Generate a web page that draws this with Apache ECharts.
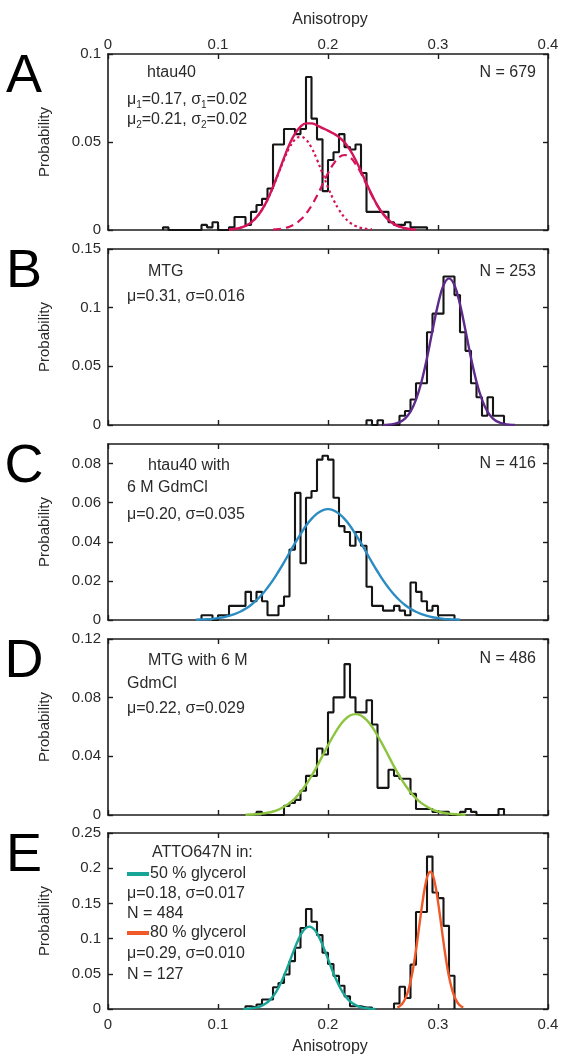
<!DOCTYPE html>
<html><head><meta charset="utf-8">
<script src="https://cdn.jsdelivr.net/npm/echarts@6/dist/echarts.min.js"></script>
<style>html,body{margin:0;padding:0;background:#fff}#c{width:564px;height:1057px}</style>
</head><body><div id="c"></div>
<script>
// ---------- data ----------
const BIN = 0.005;
const xTicks = [0, 0.1, 0.2, 0.3, 0.4];
const yTicksA = [0, 0.05, 0.1];
const yTicksB = [0, 0.05, 0.1, 0.15];
const yTicksC = [0, 0.02, 0.04, 0.06, 0.08];
const yTicksD = [0, 0.04, 0.08, 0.12];
const yTicksE = [0, 0.05, 0.1, 0.15, 0.2, 0.25];

// histograms: first bin start + probabilities per 0.005 bin
const histA_start = 0.05;
const histA = [0.0015,0,0,0,0,0,0,0.0029,0.0015,0.0044,0,0,0.0015,0.0074,0.0074,0.0029,0.0103,0.0142,0.0177,0.0236,
  0.0486,0.0486,0.0574,0.0574,0.0545,0.0574,0.0869,0.0633,0.0515,0.0221,0.0398,0.0442,0.0545,0.0471,0.0457,0.0486,
  0.0324,0.0103,0.0103,0.0103,0.0103,0.0044,0.0029,0.0029,0.0044,0.0015,0.0015,0.0015];
const histB_start = 0.235;
const histB = [0.004,0,0.004,0,0,0,0.0079,0.0119,0.0217,0.0356,0.0356,0.0791,0.0949,0.0949,0.1265,0.1265,0.1107,
  0.0791,0.0632,0.0356,0.0237,0.0079,0.0237,0.0079,0.0079];
const histC_start = 0.085;
const histC = [0.0024,0.0024,0,0.0024,0.0024,0.0072,0.0072,0.0072,0.0144,0.0096,0.0144,0.0096,0.0024,0.0024,0.0072,
  0.012,0.036,0.065,0.029,0.0625,0.066,0.082,0.084,0.082,0.0625,0.048,0.045,0.038,0.045,0.038,0.017,0.0072,0.0072,
  0.0048,0.0048,0.0072,0.0048,0.0024,0.0192,0.0144,0.0096,0.0048,0.0072,0.0024,0.0024,0.0024];
const histD_start = 0.135;
const histD = [0.0021,0,0,0,0,0.0062,0.0082,0.0103,0.0165,0.0267,0.0267,0.0453,0.0412,0.07,0.0802,0.0802,0.1029,
  0.0802,0.07,0.07,0.0782,0.0617,0.0185,0.0185,0.0309,0.0267,0.0247,0.0247,0.0144,0.0041,0.0041,0.0041,0.0021,
  0.0021,0.0021,0,0,0.0021,0.0041,0.0021,0,0,0,0,0.0041];
const histE1_start = 0.125;
const histE1 = [0.004,0.002,0.0064,0.0135,0.0135,0.031,0.037,0.049,0.068,0.087,0.115,0.142,0.124,0.105,0.08,0.064,
  0.047,0.033,0.018,0.004,0.004,0.002,0.002];
const histE2_start = 0.26;
const histE2 = [0.0079,0.0315,0.0157,0.063,0.1378,0.1378,0.2165,0.1654,0.1575,0.1181,0.0472];

const fitA_x0 = 0.11, fitA_dx = 0.005;
const fitA = [0.0003,0.0006,0.0012,0.0023,0.0042,0.0072,0.0115,0.0172,0.0245,0.0326,0.0410,0.0487,0.0548,0.0588,
  0.0606,0.0606,0.0595,0.0579,0.0565,0.0548,0.0528,0.0498,0.0455,0.0399,0.0334,0.0264,0.0198,0.0138,0.0092,0.0058,
  0.0034,0.0019,0.0010,0.0005,0.0002];
const fitA1_x0 = 0.11;
const fitA1 = [0.0003,0.0006,0.0012,0.0023,0.0042,0.0072,0.0115,0.0172,0.0243,0.0321,0.0400,0.0468,0.0514,0.0530,
  0.0514,0.0468,0.0400,0.0321,0.0243,0.0172,0.0115,0.0072,0.0042,0.0023,0.0012,0.0006,0.0003];
const fitA2_x0 = 0.15;
const fitA2 = [0.0002,0.0005,0.0010,0.0019,0.0034,0.0058,0.0092,0.0138,0.0195,0.0258,0.0322,0.0376,0.0413,0.0426,
  0.0413,0.0376,0.0322,0.0258,0.0195,0.0138,0.0092,0.0058,0.0034,0.0019,0.0010,0.0005,0.0002];
const fitB_x0 = 0.25, fitB_dx = 0.005;
const fitB = [0.0001,0.0003,0.0010,0.0024,0.0055,0.0114,0.0216,0.0369,0.0572,0.0806,0.1028,0.1191,0.125,0.1191,
  0.1028,0.0806,0.0572,0.0369,0.0216,0.0114,0.0055,0.0024,0.0010,0.0003,0.0001];
const fitC_x0 = 0.08, fitC_dx = 0.005;
const fitC = [0.0002,0.0003,0.0004,0.0006,0.0010,0.0014,0.0021,0.0030,0.0042,0.0057,0.0077,0.0101,0.0130,0.0165,
  0.0204,0.0248,0.0295,0.0344,0.0393,0.0439,0.0482,0.0517,0.0544,0.0561,0.0567,0.0561,0.0544,0.0517,0.0482,0.0439,
  0.0393,0.0344,0.0295,0.0248,0.0204,0.0165,0.0130,0.0101,0.0077,0.0057,0.0042,0.0030,0.0021,0.0014,0.0010,0.0006,
  0.0004,0.0003,0.0002];
const fitD_x0 = 0.125, fitD_dx = 0.005;
const fitD = [0.0002,0.0003,0.0006,0.0009,0.0015,0.0024,0.0037,0.0056,0.0081,0.0114,0.0156,0.0206,0.0266,0.0332,
  0.0403,0.0475,0.0542,0.0602,0.0648,0.0678,0.0688,0.0678,0.0648,0.0602,0.0542,0.0475,0.0403,0.0332,0.0266,0.0206,
  0.0156,0.0114,0.0081,0.0056,0.0037,0.0024,0.0015,0.0009,0.0006,0.0003,0.0002];
const fitE1_x0 = 0.123, fitE1_dx = 0.005;
const fitE1 = [0.0002,0.0006,0.0015,0.0035,0.0073,0.0141,0.0247,0.0397,0.0586,0.0793,0.0984,0.1121,0.117,0.1121,
  0.0984,0.0793,0.0586,0.0397,0.0247,0.0141,0.0073,0.0035,0.0015,0.0006,0.0002];
const fitE2_x0 = 0.263, fitE2_dx = 0.0025;
const fitE2 = [0.0022,0.0044,0.0086,0.0155,0.0264,0.0422,0.0633,0.0893,0.1183,0.1472,0.1721,0.1890,0.195,0.1890,
  0.1721,0.1472,0.1183,0.0893,0.0633,0.0422,0.0264,0.0155,0.0086,0.0044,0.0022];

// ---------- layout / style ----------
const FONT = "'Liberation Sans', Arial, Helvetica, sans-serif";
const TXT = '#2a2a2a';
const AX = '#1c1c1c';
const gridTops = [54, 249, 444, 639, 833];
const GL = 108, GW = 440, GH = 176;
const yTickSets = [yTicksA, yTicksB, yTicksC, yTicksD, yTicksE];
const colA = '#d3145a', colB = '#5e2b8c', colC = '#2a8cc3', colD = '#8dc540', colE1 = '#17a597', colE2 = '#f05a28';

function stairs(start, probs) {
  const pts = [[start, 0]];
  probs.forEach((p, i) => pts.push([start + i * BIN, p]));
  const end = start + probs.length * BIN;
  pts.push([end, probs[probs.length - 1]]);
  pts.push([end, 0]);
  return pts;
}
function curve(x0, dx, ys) { return ys.map((y, i) => [x0 + i * dx, y]); }
function fmt(ticks) {
  return v => ticks.some(t => Math.abs(t - v) < 1e-9) ? String(+(+v).toFixed(3)) : '';
}

const grids = [], xAxes = [], yAxes = [], series = [];
gridTops.forEach((top, i) => {
  grids.push({ left: GL, top: top, width: GW, height: GH, containLabel: false });
  const ticks = yTickSets[i];
  const ymax = i === 2 ? 0.09 : ticks[ticks.length - 1];
  const yInt = ticks[1] - ticks[0];
  const line = { show: true, onZero: false, lineStyle: { color: AX, width: 1.6 } };
  const tick = { show: true, inside: true, length: 5, lineStyle: { color: AX, width: 1.4 } };
  const lab = { fontFamily: FONT, fontSize: 15, color: TXT };
  ['bottom', 'top'].forEach((pos, k) => {
    xAxes.push({
      gridIndex: i, type: 'value', position: pos, min: 0, max: 0.4, interval: 0.1,
      axisLine: line, axisTick: tick, splitLine: { show: false },
      axisLabel: Object.assign({ show: (pos === 'top' && i === 0) || (pos === 'bottom' && i === 4),
        margin: pos === 'top' ? 2 : 8, formatter: fmt(xTicks) }, lab)
    });
  });
  ['left', 'right'].forEach((pos) => {
    yAxes.push({
      gridIndex: i, type: 'value', position: pos, min: 0, max: ymax, interval: yInt,
      axisLine: line, axisTick: tick, splitLine: { show: false },
      axisLabel: Object.assign({ show: pos === 'left', margin: 7, formatter: fmt(ticks), showMaxLabel: i !== 2 }, lab)
    });
  });
});

function hist(i, start, probs) {
  return { type: 'line', xAxisIndex: 2 * i, yAxisIndex: 2 * i, data: stairs(start, probs), step: 'end',
    symbol: 'none', lineStyle: { color: '#151515', width: 2.1 }, z: 2, silent: true, animation: false };
}
function fit(i, x0, dx, ys, color, type, w) {
  return { type: 'line', xAxisIndex: 2 * i, yAxisIndex: 2 * i, data: curve(x0, dx, ys), smooth: 0.4,
    symbol: 'none', lineStyle: { color: color, width: w || 2.4, type: type || 'solid' }, z: 3, silent: true, animation: false };
}
series.push(hist(0, histA_start, histA));
series.push(fit(0, fitA1_x0, fitA_dx, fitA1, colA, [2.5, 3], 2.2));
series.push(fit(0, fitA2_x0, fitA_dx, fitA2, colA, [8, 5], 2.2));
series.push(fit(0, fitA_x0, fitA_dx, fitA, colA));
series.push(hist(1, histB_start, histB));
series.push(fit(1, fitB_x0, fitB_dx, fitB, colB));
series.push(hist(2, histC_start, histC));
series.push(fit(2, fitC_x0, fitC_dx, fitC, colC));
series.push(hist(3, histD_start, histD));
series.push(fit(3, fitD_x0, fitD_dx, fitD, colD));
series.push(hist(4, histE1_start, histE1));
series.push(hist(4, histE2_start, histE2));
series.push(fit(4, fitE1_x0, fitE1_dx, fitE1, colE1));
series.push(fit(4, fitE2_x0, fitE2_dx, fitE2, colE2));

// ---------- texts ----------
const g = [];
function txt(x, y, text, opts) {
  const o = opts || {};
  g.push({ type: 'text', x: x, y: y, rotation: o.rot || 0, silent: true,
    style: { text: text, fill: o.fill || TXT, font: (o.size || 16) + 'px ' + FONT,
      textAlign: o.align || 'left', textVerticalAlign: o.valign || 'middle',
      align: o.align || 'left', verticalAlign: o.valign || 'middle', rich: o.rich } });
}
const sub = { m: { fontSize: 16, fontFamily: FONT, fill: TXT, color: TXT },
              s: { fontSize: 10, fontFamily: FONT, fill: TXT, color: TXT, padding: [10, 0, 0, 0] } };
const letters = ['A', 'B', 'C', 'D', 'E'];
gridTops.forEach((top, i) => {
  txt(24, top + 23, letters[i], { size: 54, align: 'center', fill: '#000' });
  txt(45, top + GH / 2, 'Probability', { size: 15, align: 'center', rot: Math.PI / 2 });
});
txt(330, 20, 'Anisotropy', { align: 'center' });
txt(330, 1047, 'Anisotropy', { align: 'center' });
// A
txt(147, 73, 'htau40');
txt(127, 100, '{m|μ}{s|1}{m|=0.17, σ}{s|1}{m|=0.02}', { rich: sub });
txt(127, 120, '{m|μ}{s|2}{m|=0.21, σ}{s|2}{m|=0.02}', { rich: sub });
txt(536, 73, 'N = 679', { align: 'right' });
// B
txt(148, 272, 'MTG');
txt(127, 297, 'μ=0.31, σ=0.016');
txt(536, 272, 'N = 253', { align: 'right' });
// C
txt(148, 466, 'htau40 with');
txt(127, 488, '6 M GdmCl');
txt(127, 515, 'μ=0.20, σ=0.035');
txt(536, 464, 'N = 416', { align: 'right' });
// D
txt(148, 661, 'MTG with 6 M');
txt(127, 684, 'GdmCl');
txt(127, 709, 'μ=0.22, σ=0.029');
txt(536, 659, 'N = 486', { align: 'right' });
// E
txt(152, 853, 'ATTO647N in:');
g.push({ type: 'line', silent: true, shape: { x1: 127, y1: 874, x2: 149, y2: 874 }, style: { stroke: colE1, lineWidth: 4 } });
txt(150, 874, '50 % glycerol');
txt(127, 894, 'μ=0.18, σ=0.017');
txt(127, 914, 'N = 484');
g.push({ type: 'line', silent: true, shape: { x1: 127, y1: 933, x2: 149, y2: 933 }, style: { stroke: colE2, lineWidth: 4 } });
txt(150, 933, '80 % glycerol');
txt(127, 954, 'μ=0.29, σ=0.010');
txt(127, 975, 'N = 127');

const chart = echarts.init(document.getElementById('c'), null, { renderer: 'canvas' });
chart.setOption({
  animation: false, backgroundColor: '#fff',
  grid: grids, xAxis: xAxes, yAxis: yAxes, series: series, graphic: g
});
</script></body></html>
